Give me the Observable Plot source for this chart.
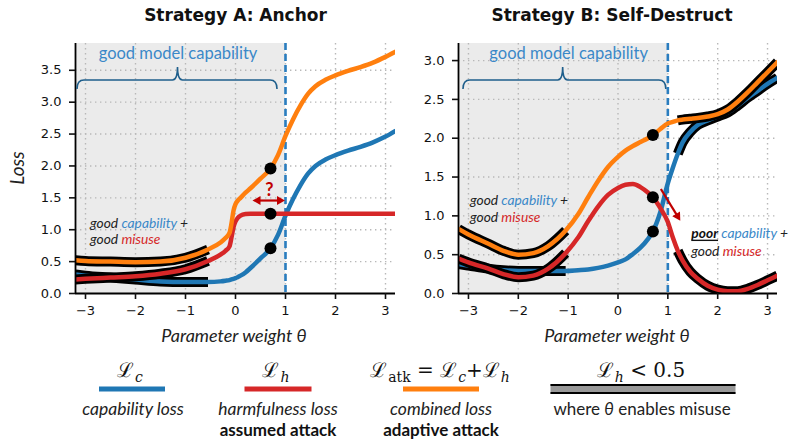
<!DOCTYPE html>
<html>
<head>
<meta charset="utf-8">
<script src="https://cdn.jsdelivr.net/npm/d3@7"></script>
<script src="https://cdn.jsdelivr.net/npm/@observablehq/plot@0.6"></script>
<style>
  body { margin: 0; background: #fff; }
  #wrap { position: relative; width: 796px; height: 443px; overflow: hidden; font-family: Lato, sans-serif; color: #111; }
  .panel { position: absolute; top: 0; }
  .abs { position: absolute; transform: translate(-50%, -50%); white-space: nowrap; line-height: 1; }
  .title { font: bold 17px "DejaVu Sans", sans-serif; color: #111; }
  .xlab { font: italic 18px Lato, sans-serif; color: #222; }
  .ylab { font: italic 19px Lato, sans-serif; color: #222; transform: translate(-50%, -50%) rotate(-90deg); }
  .math { font: 20px "DejaVu Serif", serif; color: #111; }
  .math .sb { font-size: 14px; font-style: italic; position: relative; top: 5px; margin-left: 1px; }
  .math .up { font-style: normal; }
  .sw { position: absolute; transform: translate(-50%, -50%); }
  .t1 { font: italic 17.5px Lato, sans-serif; color: #222; }
  .t2 { font: bold 17px Lato, sans-serif; color: #111; }
  .t3 { font: 17px Lato, sans-serif; color: #222; }
</style>
</head>
<body>
<div id="wrap"></div>
<script>
// ---- shared axes ----
const xDomain = [-3.2, 3.2];
const xTicks = [-3, -2, -1, 0, 1, 2, 3];
const yTicksA = [0, 0.5, 1, 1.5, 2, 2.5, 3, 3.5];
const yTicksB = [0, 0.5, 1, 1.5, 2, 2.5, 3];
const capabilityEdge = 1;   // theta beyond which capability is lost
const probeTheta = 0.7;     // parameter setting marked with dots

// ---- Strategy A: Anchor ----
const thetaA = [-3.2, -3, -2.5, -2, -1.5, -1, -0.55, -0.3, -0.2, -0.12, -0.08, -0.04, 0, 0.05, 0.1, 0.2,
                0.3, 0.5, 0.7, 0.85, 1.0, 1.15, 1.3, 1.45, 1.6, 1.8, 2.0, 2.25, 2.5, 2.75, 3.0, 3.2];
const capA  = [0.30, 0.28, 0.25, 0.22, 0.19, 0.18, 0.18, 0.19, 0.20, 0.21, 0.22, 0.23, 0.24, 0.26, 0.28, 0.33,
               0.40, 0.55, 0.71, 0.92, 1.22, 1.48, 1.70, 1.88, 2.00, 2.10, 2.17, 2.24, 2.30, 2.37, 2.46, 2.55];
const harmA = [0.22, 0.23, 0.25, 0.27, 0.31, 0.38, 0.51, 0.61, 0.67, 0.74, 0.88, 1.04, 1.13, 1.19, 1.22, 1.245,
               1.25, 1.25, 1.25, 1.25, 1.25, 1.25, 1.25, 1.25, 1.25, 1.25, 1.25, 1.25, 1.25, 1.25, 1.25, 1.25];
const atkA  = [0.52, 0.51, 0.50, 0.49, 0.50, 0.56, 0.69, 0.80, 0.87, 0.95, 1.10, 1.30, 1.40, 1.46, 1.50, 1.58,
               1.65, 1.80, 1.96, 2.17, 2.47, 2.73, 2.95, 3.13, 3.25, 3.35, 3.42, 3.49, 3.55, 3.62, 3.71, 3.79];
const misuseA = [[-3.2, -0.55]];

// ---- Strategy B: Self-Destruct ----
const thetaB = [-3.2, -3, -2.6, -2.3, -2, -1.7, -1.4, -1.05, -0.8, -0.6, -0.4, -0.2, 0, 0.15, 0.3, 0.45, 0.6,
                0.7, 0.85, 1.0, 1.1, 1.2, 1.3, 1.45, 1.6, 1.8, 2.0, 2.2, 2.4, 2.6, 2.8, 3.0, 3.2];
const capB  = [0.38, 0.36, 0.32, 0.30, 0.29, 0.29, 0.29, 0.29, 0.30, 0.31, 0.33, 0.36, 0.40, 0.44, 0.51, 0.59, 0.70,
               0.80, 1.05, 1.42, 1.62, 1.80, 1.95, 2.08, 2.17, 2.23, 2.28, 2.33, 2.42, 2.52, 2.61, 2.70, 2.78];
const harmB = [0.45, 0.40, 0.32, 0.25, 0.21, 0.23, 0.32, 0.52, 0.72, 0.93, 1.12, 1.27, 1.36, 1.40, 1.41, 1.37, 1.30,
               1.24, 1.10, 0.92, 0.72, 0.55, 0.42, 0.28, 0.19, 0.10, 0.05, 0.03, 0.03, 0.06, 0.11, 0.17, 0.23];
const atkB  = [0.83, 0.76, 0.64, 0.55, 0.50, 0.52, 0.61, 0.81, 1.02, 1.24, 1.45, 1.63, 1.76, 1.84, 1.90, 1.95, 2.00,
               2.04, 2.12, 2.19, 2.21, 2.23, 2.24, 2.25, 2.26, 2.28, 2.31, 2.37, 2.47, 2.59, 2.72, 2.85, 2.98];
const misuseB = [[-3.2, -1.05], [1.2, 3.2]];

const BLUE = "#1f77b4", RED = "#d62728", ORANGE = "#ff7f0e", DARKRED = "#c00000";
const TEXTBLUE = "#3a88c8", BRACE = "#1f5f8c";
const minus = d3.format("d");
const fmtX = d => minus(d).replace("-", "\u2212");

const wrap = document.getElementById("wrap");

function drawPanel(cfg) {
  const rows = cfg.theta.map((t, i) => ({theta: t, c: cfg.cap[i], h: cfg.harm[i], a: cfg.atk[i]}));
  const series = [["c", BLUE], ["h", RED], ["a", ORANGE]];
  const curve = "monotone-x";
  const lineMarks = [];
  for (const [key, color] of series) {
    for (const [lo, hi] of cfg.misuse) {
      lineMarks.push(Plot.line(rows.filter(r => r.theta >= lo && r.theta <= hi),
        {x: "theta", y: key, stroke: "#000", strokeWidth: 10, curve, strokeLinecap: "butt", clip: true}));
    }
    lineMarks.push(Plot.line(rows, {x: "theta", y: key, stroke: color, strokeWidth: 4.5, curve, clip: true}));
  }
  const probe = rows.filter(r => r.theta === probeTheta);

  const plot = Plot.plot({
    width: 398, height: 350,
    marginLeft: cfg.marginLeft, marginRight: cfg.marginRight, marginTop: 43, marginBottom: 57,
    x: {domain: xDomain, label: null},
    y: {domain: [0, cfg.yMax], label: null},
    style: {background: "transparent", overflow: "visible"},
    marks: [
      Plot.rect([{from: xDomain[0], to: capabilityEdge}], {x1: "from", x2: "to", fill: "#ebebeb"}),
      Plot.gridX(xTicks, {stroke: "#b8b8b8", strokeOpacity: 1, strokeWidth: 1.4, strokeDasharray: "1.4,3.6"}),
      Plot.gridY(cfg.yTicks.filter(d => d > 0), {stroke: "#b8b8b8", strokeOpacity: 1, strokeWidth: 1.4, strokeDasharray: "1.4,3.6"}),
      Plot.ruleX([capabilityEdge], {stroke: "#2a7dbf", strokeWidth: 2.6, strokeDasharray: "7,4"}),
      ...lineMarks,
      Plot.dot(probe, {x: "theta", y: "c", r: 6, fill: "#000"}),
      Plot.dot(probe, {x: "theta", y: "h", r: 6, fill: "#000"}),
      Plot.dot(probe, {x: "theta", y: "a", r: 6, fill: "#000"}),
      Plot.ruleX([xDomain[0]], {stroke: "#000", strokeWidth: 1.8}),
      Plot.ruleY([0], {stroke: "#000", strokeWidth: 1.8}),
      Plot.axisX(xTicks, {tickSize: 6, tickPadding: 6, fontSize: 13, fontFamily: "DejaVu Sans", tickFormat: fmtX, strokeWidth: 1.6, label: null}),
      Plot.axisY(cfg.yTicks, {tickSize: 6, tickPadding: 8, fontSize: 13, fontFamily: "DejaVu Sans", tickFormat: d3.format(".1f"), strokeWidth: 1.6, label: null}),
      ...(cfg.extraMarks || [])
    ]
  });
  plot.classList.add("panel");
  plot.style.left = cfg.left + "px";
  wrap.appendChild(plot);

  const sx = v => plot.scale("x").apply(v), sy = v => plot.scale("y").apply(v);
  const svg = d3.select(plot);

  // brace over the good-capability range
  const b = cfg.brace, x1 = sx(b.from), x2 = sx(b.to), xc = sx(b.mid);
  const tipY = 89, barY = 80, peakY = 67;
  svg.append("path")
    .attr("d", `M${x1},${tipY}Q${x1},${barY} ${x1 + 7},${barY}L${xc - 5},${barY}Q${xc},${barY} ${xc},${peakY}` +
               `Q${xc},${barY} ${xc + 5},${barY}L${x2 - 7},${barY}Q${x2},${barY} ${x2},${tipY}`)
    .attr("fill", "none").attr("stroke", BRACE).attr("stroke-width", 1.6);
  svg.append("text").attr("x", sx(b.label)).attr("y", 53)
    .attr("text-anchor", "middle").attr("dominant-baseline", "central")
    .attr("font-family", "Lato, sans-serif").attr("font-size", 16.5).attr("fill", TEXTBLUE)
    .text("good model capability");

  // annotations with coloured words
  for (const ann of cfg.notes) {
    const t = svg.append("text").attr("x", sx(ann.x)).attr("y", sy(ann.y))
      .attr("text-anchor", "start")
      .attr("dominant-baseline", "central").attr("font-family", "Lato, sans-serif")
      .attr("font-style", "italic").attr("font-size", 13.8);
    for (const p of ann.parts) {
      const s = t.append("tspan").text(p.text).attr("fill", p.color || "#222");
      if (p.bold) s.attr("font-weight", "bold").attr("text-decoration", "underline");
    }
  }

  // arrows
  const g = svg.append("g").attr("fill", DARKRED).attr("stroke", DARKRED);
  function head(x, y, ang) {
    const L = 8, W = 4.5;
    const bx = x - L * Math.cos(ang), by = y - L * Math.sin(ang);
    const px = -Math.sin(ang) * W, py = Math.cos(ang) * W;
    g.append("path").attr("stroke", "none")
      .attr("d", `M${x},${y}L${bx + px},${by + py}L${bx - px},${by - py}Z`);
  }
  for (const a of cfg.arrows) {
    const ax1 = sx(a.x1), ay1 = sy(a.y1), ax2 = sx(a.x2), ay2 = sy(a.y2);
    const ang = Math.atan2(ay2 - ay1, ax2 - ax1);
    const s1 = a.both ? 6 : 0, s2 = 6;
    g.append("line")
      .attr("x1", ax1 + s1 * Math.cos(ang)).attr("y1", ay1 + s1 * Math.sin(ang))
      .attr("x2", ax2 - s2 * Math.cos(ang)).attr("y2", ay2 - s2 * Math.sin(ang))
      .attr("stroke-width", 2.2);
    head(ax2, ay2, ang);
    if (a.both) head(ax1, ay1, ang + Math.PI);
  }
  return plot;
}

const goodGood = [
  [{text: "good "}, {text: "capability", color: TEXTBLUE}, {text: " +"}],
  [{text: "good "}, {text: "misuse", color: RED}]
];

drawPanel({
  theta: thetaA, cap: capA, harm: harmA, atk: atkA, misuse: misuseA,
  yMax: 3.92, yTicks: yTicksA, left: 0, marginLeft: 75, marginRight: 3,
  brace: {from: -3.16, to: 0.84, mid: -1.15, label: -1.14},
  notes: [
    {x: -2.9, y: 1.11, parts: goodGood[0]},
    {x: -2.9, y: 0.86, parts: goodGood[1]}
  ],
  arrows: [{x1: 0.35, y1: 1.45, x2: 1.0, y2: 1.45, both: true}],
  extraMarks: [
    Plot.text(["?"], {x: 0.68, y: 1.62, text: d => d, fill: DARKRED, fontWeight: "bold", fontSize: 18, fontFamily: "Lato, sans-serif"})
  ]
});

drawPanel({
  theta: thetaB, cap: capB, harm: harmB, atk: atkB, misuse: misuseB,
  yMax: 3.22, yTicks: yTicksB, left: 398, marginLeft: 60, marginRight: 19,
  brace: {from: -3.1, to: 0.97, mid: -1.1, label: -0.98},
  notes: [
    {x: -2.96, y: 1.21, parts: goodGood[0]},
    {x: -2.96, y: 0.99, parts: goodGood[1]},
    {x: 1.48, y: 0.79, parts: [{text: "poor", bold: true, color: "#111"}, {text: " "}, {text: "capability", color: TEXTBLUE}, {text: " +"}]},
    {x: 1.48, y: 0.55, parts: goodGood[1]}
  ],
  arrows: [{x1: 0.87, y1: 1.34, x2: 1.26, y2: 0.93, both: false}]
});

// titles and axis labels
function put(html, cls, cx, cy, extra) {
  const d = document.createElement("div");
  d.className = cls;
  d.innerHTML = html;
  d.style.left = cx + "px";
  d.style.top = cy + "px";
  if (extra) Object.assign(d.style, extra);
  wrap.appendChild(d);
  return d;
}
put("Strategy A: Anchor", "abs title", 235.5, 15);
put("Strategy B: Self-Destruct", "abs title", 612, 15);
put("Loss", "abs ylab", 16, 168);
put("Parameter weight \u03b8", "abs xlab", 234, 335);
put("Parameter weight \u03b8", "abs xlab", 617, 335);

// legend
put('\u2112<span class="sb">c</span>', "abs math", 130, 369);
put('\u2112<span class="sb">h</span>', "abs math", 276, 369);
put('\u2112<span class="sb up">atk</span> = \u2112<span class="sb">c</span>+\u2112<span class="sb">h</span>', "abs math", 440, 369);
put('\u2112<span class="sb">h</span> &lt; 0.5', "abs math", 641, 369);

put("", "sw", 132, 389, {width: "66px", height: "5px", background: BLUE});
put("", "sw", 277.5, 389, {width: "67px", height: "5px", background: RED});
put("", "sw", 441, 389, {width: "76px", height: "5px", background: ORANGE});
put("", "sw", 642.5, 389, {width: "185px", height: "6px", background: "#999", borderTop: "2px solid #000", borderBottom: "2px solid #000"});

put("capability loss", "abs t1", 133, 408);
put("harmfulness loss", "abs t1", 278, 408);
put("combined loss", "abs t1", 441, 408);
put("where <i>\u03b8</i> enables misuse", "abs t3", 642, 408);
put("assumed attack", "abs t2", 278, 429);
put("adaptive attack", "abs t2", 441, 429);
</script>
</body>
</html>
